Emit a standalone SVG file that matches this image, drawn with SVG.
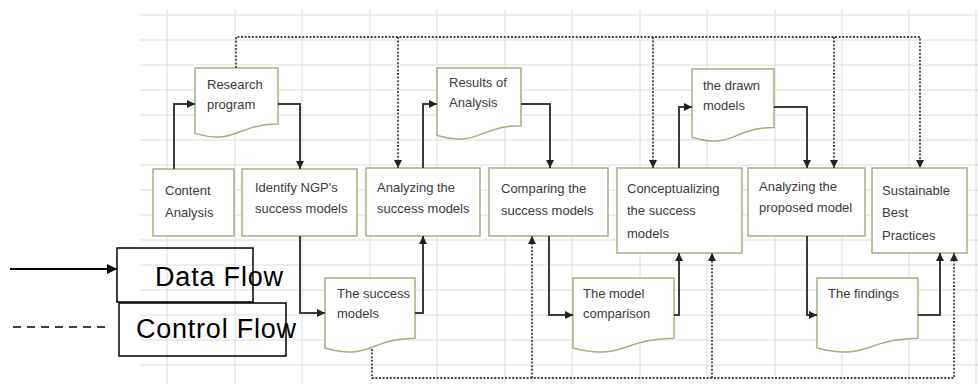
<svg xmlns="http://www.w3.org/2000/svg" width="978" height="384" viewBox="0 0 978 384">
<style>
.grid line{stroke:#dcdcdc;stroke-width:1}
.box{fill:#ffffff;stroke:#9db27f;stroke-width:1.5}
.doc{fill:#ffffff;stroke:#9db27f;stroke-width:1.5}
.t{font-family:"Liberation Sans",Arial,sans-serif;font-size:13px;fill:#3a3a3a}
.data{fill:none;stroke:#3c3c3c;stroke-width:2}
.ctrl{fill:none;stroke:#444444;stroke-width:1.8;stroke-dasharray:2,1.6}
.leg{font-family:"Liberation Sans",Arial,sans-serif;font-size:27px;fill:#000000}
.lbox{fill:none;stroke:#000000;stroke-width:1.5}
</style>
<defs>
<marker id="ah" markerUnits="userSpaceOnUse" markerWidth="8" markerHeight="8" refX="8" refY="4" orient="auto">
<path d="M0,0 L8,4 L0,8 Z" fill="#222222"/>
</marker>
<marker id="ahL" markerUnits="userSpaceOnUse" markerWidth="10" markerHeight="10" refX="10" refY="5" orient="auto">
<path d="M0,0 L10,5 L0,10 Z" fill="#000000"/>
</marker>
</defs>
<rect x="0" y="0" width="978" height="384" fill="#ffffff"/>
<g class="grid">
<line x1="140" y1="15" x2="978" y2="15"/><line x1="140" y1="40" x2="978" y2="40"/><line x1="140" y1="65" x2="978" y2="65"/><line x1="140" y1="90" x2="978" y2="90"/><line x1="140" y1="115" x2="978" y2="115"/><line x1="140" y1="140" x2="978" y2="140"/><line x1="140" y1="165" x2="978" y2="165"/><line x1="140" y1="190" x2="978" y2="190"/><line x1="140" y1="215" x2="978" y2="215"/><line x1="140" y1="240" x2="978" y2="240"/><line x1="140" y1="265" x2="978" y2="265"/><line x1="140" y1="290" x2="978" y2="290"/><line x1="140" y1="315" x2="978" y2="315"/><line x1="140" y1="340" x2="978" y2="340"/><line x1="140" y1="365" x2="978" y2="365"/>
<line x1="167" y1="10" x2="167" y2="384"/><line x1="235" y1="10" x2="235" y2="384"/><line x1="302" y1="10" x2="302" y2="384"/><line x1="370" y1="10" x2="370" y2="384"/><line x1="437" y1="10" x2="437" y2="384"/><line x1="505" y1="10" x2="505" y2="384"/><line x1="572" y1="10" x2="572" y2="384"/><line x1="640" y1="10" x2="640" y2="384"/><line x1="707" y1="10" x2="707" y2="384"/><line x1="775" y1="10" x2="775" y2="384"/><line x1="842" y1="10" x2="842" y2="384"/><line x1="909" y1="10" x2="909" y2="384"/><line x1="976" y1="10" x2="976" y2="384"/>
</g>
<g id="content-analysis"><rect class="box" x="153" y="169" width="81" height="67"/><text class="t" x="165" y="195">Content</text><text class="t" x="165" y="217">Analysis</text></g>
<g id="identify"><rect class="box" x="242" y="169" width="115" height="67"/><text class="t" x="255" y="192">Identify NGP's</text><text class="t" x="255" y="213">success models</text></g>
<g id="analyzing"><rect class="box" x="366" y="168" width="114" height="68"/><text class="t" x="377" y="192">Analyzing the</text><text class="t" x="377" y="213">success models</text></g>
<g id="comparing"><rect class="box" x="489" y="168" width="119" height="68"/><text class="t" x="501" y="193">Comparing the</text><text class="t" x="501" y="215">success models</text></g>
<g id="conceptualizing"><rect class="box" x="617" y="168" width="125" height="85"/><text class="t" x="627" y="193">Conceptualizing</text><text class="t" x="627" y="215">the success</text><text class="t" x="627" y="238">models</text></g>
<g id="analyzing-proposed"><rect class="box" x="748" y="168" width="117" height="68"/><text class="t" x="759" y="191">Analyzing the</text><text class="t" x="759" y="212">proposed model</text></g>
<g id="sustainable"><rect class="box" x="872" y="168" width="95" height="85"/><text class="t" x="882" y="195">Sustainable</text><text class="t" x="882" y="217">Best</text><text class="t" x="882" y="240">Practices</text></g>
<g id="research-program"><path class="doc" d="M195,68 H278 V124 C236.5,124 236.5,145.5 195,133.4 Z"/><text class="t" x="207" y="89">Research</text><text class="t" x="207" y="109">program</text></g>
<g id="results"><path class="doc" d="M437,68 H521 V125.7 C479,125.7 479,147.7 437,135.2 Z"/><text class="t" x="449" y="87">Results of</text><text class="t" x="449" y="107">Analysis</text></g>
<g id="drawn-models"><path class="doc" d="M692,69 H774 V127.5 C733,127.5 733,149.8 692,137.2 Z"/><text class="t" x="703" y="90">the drawn</text><text class="t" x="703" y="110">models</text></g>
<g id="success-models"><path class="doc" d="M325,278 H415 V338.2 C370,338.2 370,361 325,348 Z"/><text class="t" x="337" y="298">The success</text><text class="t" x="337" y="318">models</text></g>
<g id="model-comparison"><path class="doc" d="M573,278 H674 V338.2 C623.5,338.2 623.5,361 573,348 Z"/><text class="t" x="583" y="298">The model</text><text class="t" x="583" y="318">comparison</text></g>
<g id="findings"><path class="doc" d="M817,278 H918 V338.2 C867.5,338.2 867.5,361 817,348 Z"/><text class="t" x="828" y="298">The findings</text></g>
<g id="connectors">
<path class="data" marker-end="url(#ah)" d="M174,169 V104 H195"/>
<path class="data" marker-end="url(#ah)" d="M278,104 H300 V169"/>
<path class="data" marker-end="url(#ah)" d="M300,236 V313 H325"/>
<path class="data" marker-end="url(#ah)" d="M415,313 H423 V236"/>
<path class="data" marker-end="url(#ah)" d="M423,168 V104 H437"/>
<path class="data" marker-end="url(#ah)" d="M521,104 H550 V168"/>
<path class="data" marker-end="url(#ah)" d="M549,236 V315 H573"/>
<path class="data" marker-end="url(#ah)" d="M674,315 H679 V253"/>
<path class="data" marker-end="url(#ah)" d="M679,168 V107 H692"/>
<path class="data" marker-end="url(#ah)" d="M774,107 H807 V168"/>
<path class="data" marker-end="url(#ah)" d="M807,236 V315 H817"/>
<path class="data" marker-end="url(#ah)" d="M918,315 H940 V253"/>
<path class="ctrl" marker-end="url(#ah)" d="M236,68 V37 H920 V168"/>
<path class="ctrl" marker-end="url(#ah)" d="M398,37 V168"/>
<path class="ctrl" marker-end="url(#ah)" d="M653,37 V168"/>
<path class="ctrl" marker-end="url(#ah)" d="M834,37 V168"/>
<path class="ctrl" marker-end="url(#ah)" d="M372,349 V378 H954 V253"/>
<path class="ctrl" marker-end="url(#ah)" d="M532,378 V236"/>
<path class="ctrl" marker-end="url(#ah)" d="M712,378 V253"/>
</g>
<g id="legend">
<path d="M10,269 H117" stroke="#000000" stroke-width="2" fill="none" marker-end="url(#ahL)"/>
<path d="M13,327 H105" stroke="#000000" stroke-width="1.5" fill="none" stroke-dasharray="8,6"/>
<rect class="lbox" x="117" y="248" width="136" height="54"/>
<text class="leg" x="155" y="286" textLength="128">Data Flow</text>
<rect class="lbox" x="119" y="303" width="167" height="53"/>
<text class="leg" x="136" y="338" textLength="160">Control Flow</text>
</g>
</svg>
